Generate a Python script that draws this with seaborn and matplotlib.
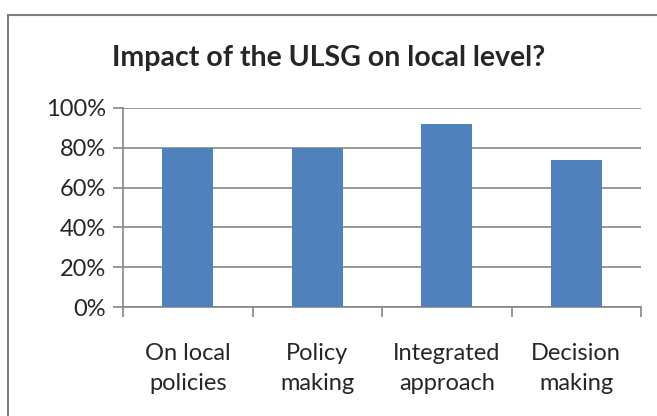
import pandas as pd
import seaborn as sns
import matplotlib.pyplot as plt
from matplotlib.patches import Rectangle
from matplotlib.ticker import PercentFormatter

categories = ['On local\npolicies', 'Policy\nmaking', 'Integrated\napproach', 'Decision\nmaking']
values = [80, 80, 92, 74]

sns.set_style('white')
plt.rcParams['font.family'] = ['Lato', 'DejaVu Sans']

df = pd.DataFrame({'category': categories, 'value': values})

dpi = 100
fig = plt.figure(figsize=(657 / dpi, 416 / dpi), dpi=dpi)
W, H = 657, 416
ax = fig.add_axes([123 / W, 1 - 307 / H, (641 - 123) / W, (307 - 108) / H])

sns.barplot(data=df, x='category', y='value', color='#4f81bd', width=0.39,
            saturation=1, linewidth=0, ax=ax, zorder=3)

ax.set_ylim(0, 100)
ax.set_xlim(-0.5, 3.5)
ax.set_yticks(range(0, 101, 20))
ax.yaxis.set_major_formatter(PercentFormatter(decimals=0))
ax.set_xlabel('')
ax.set_ylabel('')

# gridlines and axis lines like the spreadsheet chart
ax.grid(axis='y', color='#868686', linewidth=1.2, zorder=0)
for s in ['top', 'right']:
    ax.spines[s].set_visible(False)
ax.spines['left'].set_color('#868686')
ax.spines['bottom'].set_color('#868686')
ax.spines['left'].set_linewidth(1.2)
ax.spines['bottom'].set_linewidth(1.2)

# x ticks at category boundaries, labels centered on bars
ax.set_xticks([-0.5, 0.5, 1.5, 2.5, 3.5], minor=False)
ax.set_xticklabels([])
ax.set_xticks(range(len(categories)), minor=True)
ax.set_xticklabels(categories, minor=True, fontsize=17, linespacing=1.5)
ax.tick_params(axis='x', which='major', length=7, width=1.2, color='#868686', direction='out', bottom=True)
ax.tick_params(axis='x', which='minor', length=0, pad=26)
ax.tick_params(axis='y', length=7, width=1.2, color='#868686', direction='out', left=True, labelsize=17, pad=5)

fig.text(0.5, 1 - 58 / H, 'Impact of the ULSG on local level?', ha='center', va='center',
         fontsize=20.5, fontweight='bold')

# outer chart border
fig.patches.append(Rectangle((8 / W, -0.1), 1.2, 1 - 15 / H + 0.1, transform=fig.transFigure,
                             fill=False, edgecolor='#7f7f7f', linewidth=1.5, clip_on=False))

fig.savefig('out.png', dpi=dpi)
